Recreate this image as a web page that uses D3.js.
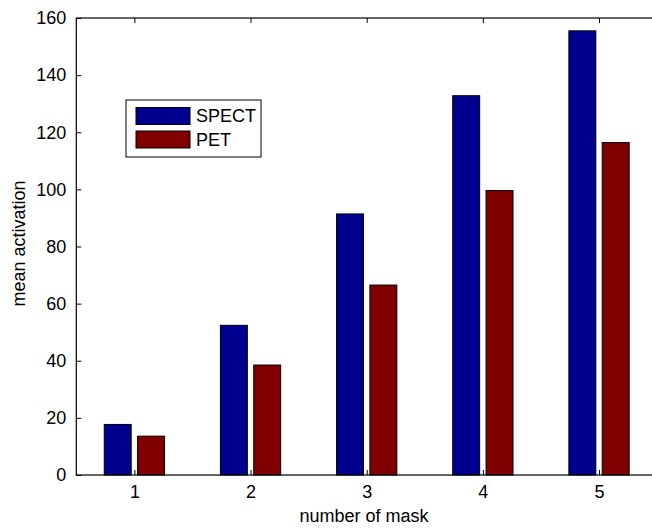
<!DOCTYPE html>
<html><head><meta charset="utf-8">
<script src="https://cdn.jsdelivr.net/npm/d3@7"></script>
<style>body{margin:0;background:#fff}svg{display:block}text{font-family:"Liberation Sans",Arial,sans-serif;fill:#000}</style>
</head><body><svg id="c" width="652" height="529"></svg>
<script>
const categories = [1, 2, 3, 4, 5];
const seriesNames = ["SPECT", "PET"];
const spectValues = [17.7, 52.4, 91.4, 132.8, 155.5];
const petValues = [13.6, 38.5, 66.5, 99.6, 116.4];
const yTicks = [0, 20, 40, 60, 80, 100, 120, 140, 160];
const colors = ["#00008F", "#800000"];

const svg = d3.select("#c");
const L = 76.3, R = 657.1, T = 18, B = 475;
const x = d3.scaleLinear().domain([0.5, 5.5]).range([L, R]);
const y = d3.scaleLinear().domain([0, 160]).range([B, T]);
const unit = x(2) - x(1);
const off = 0.1435, bw = 0.232;
const series = [spectValues, petValues];

// bars
series.forEach((vals, si) => {
  svg.append("g").selectAll("rect").data(categories).join("rect")
    .attr("x", (d, i) => x(d + (si === 0 ? -off : off)) - bw * unit / 2)
    .attr("width", bw * unit)
    .attr("y", (d, i) => y(vals[i]))
    .attr("height", (d, i) => y(0) - y(vals[i]))
    .attr("fill", colors[si]).attr("stroke", "#000").attr("stroke-width", 1);
});

// axes
const fs = "18px";
const gB = svg.append("g").attr("transform", `translate(0,${B})`)
  .call(d3.axisBottom(x).tickValues(categories).tickSizeInner(-5).tickSizeOuter(0).tickPadding(10).tickFormat(d3.format("d")));
const gT = svg.append("g").attr("transform", `translate(0,${T})`)
  .call(d3.axisTop(x).tickValues(categories).tickSizeInner(-5).tickSizeOuter(0).tickFormat(""));
const gL = svg.append("g").attr("transform", `translate(${L},0)`)
  .call(d3.axisLeft(y).tickValues(yTicks).tickSizeInner(-5).tickSizeOuter(0).tickPadding(10));
const gR = svg.append("g").attr("transform", `translate(${R},0)`)
  .call(d3.axisRight(y).tickValues(yTicks).tickSizeInner(-5).tickSizeOuter(0).tickFormat(""));
[gB, gT, gL, gR].forEach(g => {
  g.selectAll("path").remove();
  g.selectAll("line").attr("stroke", "#000").attr("stroke-width", 1);
  g.selectAll("text").style("font-size", fs).attr("fill", "#000");
});
gB.selectAll("text").attr("dy", "0.71em");
// box
svg.append("rect").attr("x", L).attr("y", T).attr("width", R - L).attr("height", B - T)
  .attr("fill", "none").attr("stroke", "#000").attr("stroke-width", 1.2);

// labels
svg.append("text").attr("x", 364).attr("y", 522).attr("text-anchor", "middle")
  .style("font-size", "18px").text("number of mask");
svg.append("text").attr("transform", `translate(25,${(T + B) / 2 - 3}) rotate(-90)`).attr("text-anchor", "middle")
  .style("font-size", "18px").text("mean activation");

// legend
const lg = svg.append("g");
lg.append("rect").attr("x", 126).attr("y", 100).attr("width", 135).attr("height", 57)
  .attr("fill", "#fff").attr("stroke", "#000").attr("stroke-width", 1);
seriesNames.forEach((n, i) => {
  const yy = 107.5 + i * 23.5;
  lg.append("rect").attr("x", 136).attr("y", yy).attr("width", 54).attr("height", 17)
    .attr("fill", colors[i]).attr("stroke", "#000").attr("stroke-width", 1);
  lg.append("text").attr("x", 196).attr("y", yy + 8.5).attr("dy", "0.35em")
    .style("font-size", "18px").text(n);
});
</script></body></html>
